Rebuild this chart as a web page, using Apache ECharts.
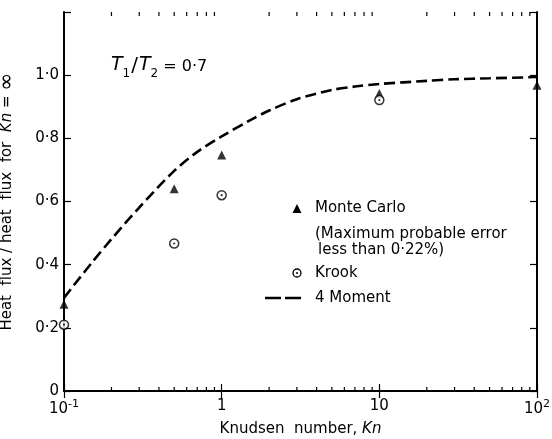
<!DOCTYPE html>
<html><head><meta charset="utf-8">
<script src="https://cdn.jsdelivr.net/npm/echarts@6/dist/echarts.min.js"></script>
<style>html,body{margin:0;padding:0;background:#fff}#c{width:552px;height:439px}</style>
</head><body><div id="c"></div>
<script>
// ---- data ----
const xTickValues = [0.1, 1, 10, 100];
const xTickLabels = ['10{sup|-1}', '1', '10', '10{sup|2}'];
const xMinorTicks = [0.2,0.3,0.4,0.5,0.6,0.7,0.8,0.9,2,3,4,5,6,7,8,9,20,30,40,50,60,70,80,90];
const yTickValues = [0, 0.2, 0.4, 0.6, 0.8, 1.0];
const yTickLabels = ['0', '0·2', '0·4', '0·6', '0·8', '1·0'];

const monteCarloKn = [0.1, 0.5, 1, 10, 100];
const monteCarloVal = [0.275, 0.64, 0.747, 0.942, 0.968];
const krookKn = [0.1, 0.5, 1, 10];
const krookVal = [0.21, 0.467, 0.62, 0.921];
const momentKn = [0.1, 0.15, 0.2, 0.3, 0.5, 0.7, 1, 1.5, 2, 3, 5, 7, 10, 20, 30, 50, 100];
const momentVal = [0.295, 0.406, 0.481, 0.581, 0.697, 0.757, 0.806, 0.856, 0.888, 0.924, 0.953, 0.964, 0.972, 0.982, 0.987, 0.990, 0.994];

const FONT = 'DejaVu Sans';
const chart = echarts.init(document.getElementById('c'), null, {renderer: 'canvas'});

function pairs(xs, ys) { return xs.map((x, i) => [x, ys[i]]); }

const axisLine = {show: true, lineStyle: {color: '#000', width: 2}};

chart.setOption({
  animation: false,
  backgroundColor: '#fff',
  grid: {left: 64, right: 15, top: 12, bottom: 48, containLabel: false, outerBoundsMode: 'none'},
  xAxis: [{
    type: 'log', logBase: 10, min: 0.1, max: 100, position: 'bottom',
    axisLine: axisLine,
    axisTick: {show: true, inside: true, length: 7, lineStyle: {color: '#000', width: 1.2}},
    splitLine: {show: false},
    axisLabel: {
      color: '#000', fontFamily: FONT, fontSize: 15, margin: 8,
      formatter: function (v) {
        for (let i = 0; i < xTickValues.length; i++) {
          if (Math.abs(Math.log10(v) - Math.log10(xTickValues[i])) < 1e-6) return xTickLabels[i];
        }
        return '';
      },
      rich: {sup: {fontSize: 11, fontFamily: FONT, color: '#000', padding: [0, 0, 9, 0]}}
    },
    name: 'Knudsen  number, {it|Kn}', nameLocation: 'middle', nameGap: 31,
    nameTextStyle: {color: '#000', fontFamily: FONT, fontSize: 15,
      rich: {it: {fontStyle: 'italic', fontFamily: FONT, fontSize: 15, color: '#000'}}}
  }, {
    type: 'log', logBase: 10, min: 0.1, max: 100, position: 'top',
    axisLine: axisLine,
    axisTick: {show: true, inside: true, length: 7, lineStyle: {color: '#000', width: 1.2}},
    axisLabel: {show: false}, splitLine: {show: false}
  }],
  yAxis: [{
    type: 'value', min: 0, max: 1.2, interval: 0.2, position: 'left',
    axisLine: axisLine,
    axisTick: {show: true, inside: true, length: 7, lineStyle: {color: '#000', width: 1.2}},
    splitLine: {show: false},
    axisLabel: {
      color: '#000', fontFamily: FONT, fontSize: 15, margin: 5,
      formatter: function (v) {
        for (let i = 0; i < yTickValues.length; i++) {
          if (Math.abs(v - yTickValues[i]) < 1e-6) return yTickLabels[i];
        }
        return '';
      }
    },
    name: 'Heat  flux / heat  flux  for  {it|Kn} = {inf|∞}', nameLocation: 'middle', nameGap: 46,
    nameTextStyle: {color: '#000', fontFamily: FONT, fontSize: 15,
      rich: {
        it: {fontStyle: 'italic', fontFamily: FONT, fontSize: 15, color: '#000'},
        inf: {fontFamily: FONT, fontSize: 22, color: '#000'}
      }}
  }, {
    type: 'value', min: 0, max: 1.2, interval: 0.2, position: 'right',
    axisLine: axisLine,
    axisTick: {show: true, inside: true, length: 7, lineStyle: {color: '#000', width: 1.2}},
    axisLabel: {show: false}, splitLine: {show: false}
  }],
  series: [{
    name: 'minor ticks', type: 'custom', xAxisIndex: 0, yAxisIndex: 0, silent: true, clip: false,
    data: xMinorTicks.map(v => [v, 0]),
    renderItem: function (params, api) {
      const v = api.value(0);
      const b = api.coord([v, 0]);
      const t = api.coord([v, 1.2]);
      const st = {stroke: '#000', lineWidth: 1.2};
      return {type: 'group', children: [
        {type: 'line', shape: {x1: b[0], y1: b[1], x2: b[0], y2: b[1] - 4}, style: st},
        {type: 'line', shape: {x1: t[0], y1: t[1], x2: t[0], y2: t[1] + 4}, style: st}
      ]};
    }
  }, {
    name: '4 Moment', type: 'line', data: pairs(momentKn, momentVal),
    smooth: 0.3, showSymbol: false, symbol: 'none', clip: false,
    lineStyle: {color: '#000', width: 2.6, type: [11, 5]}
  }, {
    name: 'Monte Carlo', type: 'scatter', data: pairs(monteCarloKn, monteCarloVal),
    symbol: 'triangle', symbolSize: [9, 9], clip: false,
    itemStyle: {color: '#000'}
  }, {
    name: 'Krook', type: 'scatter', data: pairs(krookKn, krookVal),
    symbol: 'circle', symbolSize: 9, clip: false,
    itemStyle: {color: '#fff', borderColor: '#000', borderWidth: 1.5}
  }, {
    name: 'Krook centre', type: 'scatter', data: pairs(krookKn, krookVal),
    symbol: 'circle', symbolSize: 2.2, clip: false,
    itemStyle: {color: '#000'}
  }],
  graphic: [
    {type: 'text', left: 111, top: 56, style: {
      text: '{it|T}{sub|1}{sl|/}{it|T}{sub|2}{n| = 0·7}',
      rich: {
        it: {fontStyle: 'italic', fontFamily: FONT, fontSize: 19, fill: '#000', verticalAlign: 'bottom', padding: [0, 0, 5, 0]},
        sl: {fontFamily: FONT, fontSize: 20, fill: '#000', verticalAlign: 'bottom', padding: [0, 1, 4, 1]},
        n: {fontFamily: FONT, fontSize: 16, fill: '#000', verticalAlign: 'bottom', padding: [0, 0, 5, 0]},
        sub: {fontFamily: FONT, fontSize: 12, fill: '#000', verticalAlign: 'bottom', padding: [0, 0, 0, 0]}
      }}},
    {type: 'polygon', shape: {points: [[297, 204], [292.5, 213], [301.5, 213]]}, style: {fill: '#000'}},
    {type: 'text', x: 315, y: 208, style: {text: 'Monte Carlo', font: '15px "DejaVu Sans"', fill: '#000', verticalAlign: 'middle'}},
    {type: 'text', x: 315, y: 234, style: {text: '(Maximum probable error', font: '15px "DejaVu Sans"', fill: '#000', verticalAlign: 'middle'}},
    {type: 'text', x: 318, y: 250, style: {text: 'less than 0·22%)', font: '15px "DejaVu Sans"', fill: '#000', verticalAlign: 'middle'}},
    {type: 'circle', shape: {cx: 297, cy: 273, r: 4}, style: {fill: '#fff', stroke: '#000', lineWidth: 1.3}},
    {type: 'circle', shape: {cx: 297, cy: 273, r: 1}, style: {fill: '#000'}},
    {type: 'text', x: 315, y: 273, style: {text: 'Krook', font: '15px "DejaVu Sans"', fill: '#000', verticalAlign: 'middle'}},
    {type: 'line', shape: {x1: 265, y1: 298, x2: 302, y2: 298}, style: {stroke: '#000', lineWidth: 2.6, lineDash: [16, 4]}},
    {type: 'text', x: 315, y: 298, style: {text: '4 Moment', font: '15px "DejaVu Sans"', fill: '#000', verticalAlign: 'middle'}}
  ]
});
</script>
</body></html>
